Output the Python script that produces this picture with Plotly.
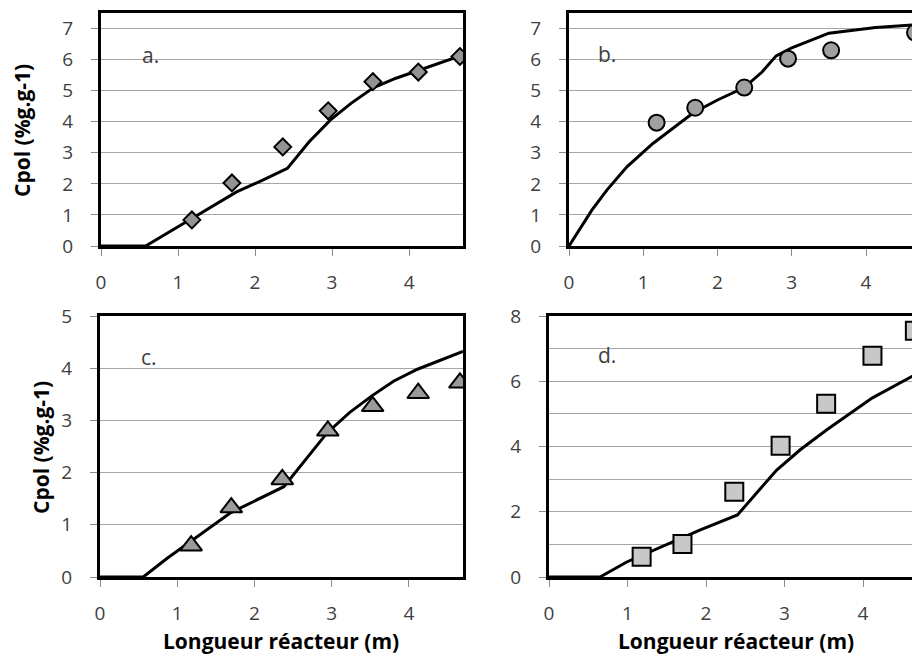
import plotly.graph_objects as go

# ---------------- data ----------------
x_pts = [1.18, 1.70, 2.36, 2.95, 3.53, 4.12, 4.66]

a_pts_y = [0.84, 2.03, 3.19, 4.35, 5.29, 5.60, 6.10]
a_line_x = [0, 0.58, 1.0, 1.5, 1.76, 2.1, 2.42, 2.7, 2.98, 3.25, 3.54, 3.83, 4.12, 4.4, 4.7]
a_line_y = [0, 0, 0.62, 1.35, 1.74, 2.12, 2.5, 3.35, 4.06, 4.6, 5.1, 5.4, 5.65, 5.88, 6.15]

b_pts_x = [1.18, 1.70, 2.36, 2.95, 3.53, 4.66]
b_pts_y = [3.97, 4.45, 5.10, 6.03, 6.30, 6.87]
b_line_x = [0, 0.31, 0.51, 0.78, 1.13, 1.67, 2.0, 2.36, 2.6, 2.79, 3.0, 3.5, 4.13, 4.7]
b_line_y = [0, 1.16, 1.8, 2.55, 3.3, 4.28, 4.7, 5.1, 5.6, 6.12, 6.38, 6.85, 7.03, 7.13]

c_pts_y = [0.60, 1.33, 1.87, 2.80, 3.27, 3.52, 3.72]
c_line_x = [0, 0.56, 0.87, 1.69, 2.38, 2.94, 3.23, 3.52, 3.8, 4.11, 4.7]
c_line_y = [0, 0, 0.36, 1.23, 1.73, 2.76, 3.15, 3.47, 3.75, 3.98, 4.32]

d_pts_y = [0.62, 1.01, 2.61, 4.02, 5.31, 6.78, 7.55]
d_line_x = [0, 0.65, 0.99, 1.5, 1.92, 2.4, 2.9, 3.2, 3.53, 4.12, 4.7]
d_line_y = [0, 0, 0.46, 1.0, 1.44, 1.9, 3.28, 3.9, 4.5, 5.49, 6.25]

x_tick_vals = [0, 1, 2, 3, 4]
panel_labels = ["a.", "b.", "c.", "d."]
y_title = "Cpol (%g.g-1)"
x_title = "Longueur réacteur (m)"

# ---------------- figure ----------------
OFF = 8                      # default page (body) margin of the html page
W, H = 920 - OFF, 657 - OFF
FONT = "Open Sans"
TICKCOL = "#404040"

def px(v):
    return (v - OFF) / W

def py(v):
    return 1 - (v - OFF) / H

fig = go.Figure()

panels = [
    dict(lx=a_line_x, ly=a_line_y, mx=x_pts, my=a_pts_y, sym="diamond", size=13, col="#939393"),
    dict(lx=b_line_x, ly=b_line_y, mx=b_pts_x, my=b_pts_y, sym="circle", size=16, col="#a0a0a0"),
    dict(lx=c_line_x, ly=c_line_y, mx=x_pts, my=c_pts_y, sym="triangle-up", size=19, col="#9a9a9a"),
    dict(lx=d_line_x, ly=d_line_y, mx=x_pts, my=d_pts_y, sym="square", size=18, col="#c8c8c8"),
]

for i, p in enumerate(panels):
    sfx = "" if i == 0 else str(i + 1)
    fig.add_trace(go.Scatter(x=p["lx"], y=p["ly"], mode="lines",
                             line=dict(color="black", width=3),
                             xaxis="x" + sfx, yaxis="y" + sfx, showlegend=False))
    fig.add_trace(go.Scatter(x=p["mx"], y=p["my"], mode="markers",
                             marker=dict(symbol=p["sym"], size=p["size"], color=p["col"],
                                         line=dict(color="black", width=2)),
                             xaxis="x" + sfx, yaxis="y" + sfx, showlegend=False))

# domains in (screen) pixels
doms = [
    ((101, 463), (13, 246)),
    ((569, 918), (13, 246)),
    ((100, 463), (316, 577)),
    ((549, 918), (316, 577)),
]
yranges = [[0, 7.5], [0, 7.5], [0, 5], [0, 8]]
ydticks = [1, 1, 1, 2]

for i, ((x0, x1), (y0, y1)) in enumerate(doms):
    sfx = "" if i == 0 else str(i + 1)
    xa = dict(domain=[px(x0), min(px(x1), 1.0)], range=[0, 4.7], anchor="y" + sfx,
              tickvals=x_tick_vals, showgrid=False, zeroline=False, automargin=False,
              showline=True, linecolor="black", linewidth=3, mirror=True,
              ticks="outside", ticklen=7, tickcolor="#8c8c8c", tickwidth=1,
              ticklabelstandoff=10,
              tickfont=dict(family=FONT, size=19, color=TICKCOL))
    ya = dict(domain=[py(y1), py(y0)], range=yranges[i], anchor="x" + sfx,
              dtick=ydticks[i], tick0=0, showgrid=True, gridcolor="#a6a6a6", gridwidth=1,
              zeroline=False, automargin=False,
              showline=True, linecolor="black", linewidth=3, mirror=True,
              ticks="outside", ticklen=7, tickcolor="#8c8c8c", tickwidth=1,
              ticklabelstandoff=14,
              tickfont=dict(family=FONT, size=19, color=TICKCOL))
    if i == 3:
        ya["minor"] = dict(dtick=1, tick0=0, showgrid=True, gridcolor="#a6a6a6", gridwidth=1, ticks="")
    fig.layout["xaxis" + sfx] = xa
    fig.layout["yaxis" + sfx] = ya

# label boxes (white) covering gridlines, and the labels
label_boxes = [(125, 168, 20, 70, 150, 55), (582, 627, 20, 70, 607, 54),
               (125, 168, 330, 376, 149, 357), (582, 627, 326, 372, 607, 355)]
for lab, (bx0, bx1, by0, by1, tx, ty) in zip(panel_labels, label_boxes):
    fig.add_shape(type="rect", xref="paper", yref="paper",
                  x0=px(bx0), x1=px(bx1), y0=py(by1), y1=py(by0),
                  fillcolor="white", line=dict(width=0), layer="between")
    fig.add_annotation(text=lab, xref="paper", yref="paper", x=px(tx), y=py(ty),
                       xanchor="center", yanchor="middle", showarrow=False,
                       font=dict(family=FONT, size=21, color=TICKCOL))

# axis titles
for (cx, cy) in [(22, 131), (41, 448)]:
    fig.add_annotation(text=y_title, xref="paper", yref="paper", x=px(cx), y=py(cy),
                       xanchor="center", yanchor="middle", textangle=-90, showarrow=False,
                       font=dict(family=FONT, size=21, color="black", weight="bold"))
for (cx, cy) in [(281, 641), (736, 641)]:
    fig.add_annotation(text=x_title, xref="paper", yref="paper", x=px(cx), y=py(cy),
                       xanchor="center", yanchor="middle", showarrow=False,
                       font=dict(family=FONT, size=21, color="black", weight="bold"))

fig.update_layout(width=W, height=H, margin=dict(l=0, r=0, t=0, b=0, autoexpand=False),
                  paper_bgcolor="white", plot_bgcolor="white")

fig.write_html("out.html")
